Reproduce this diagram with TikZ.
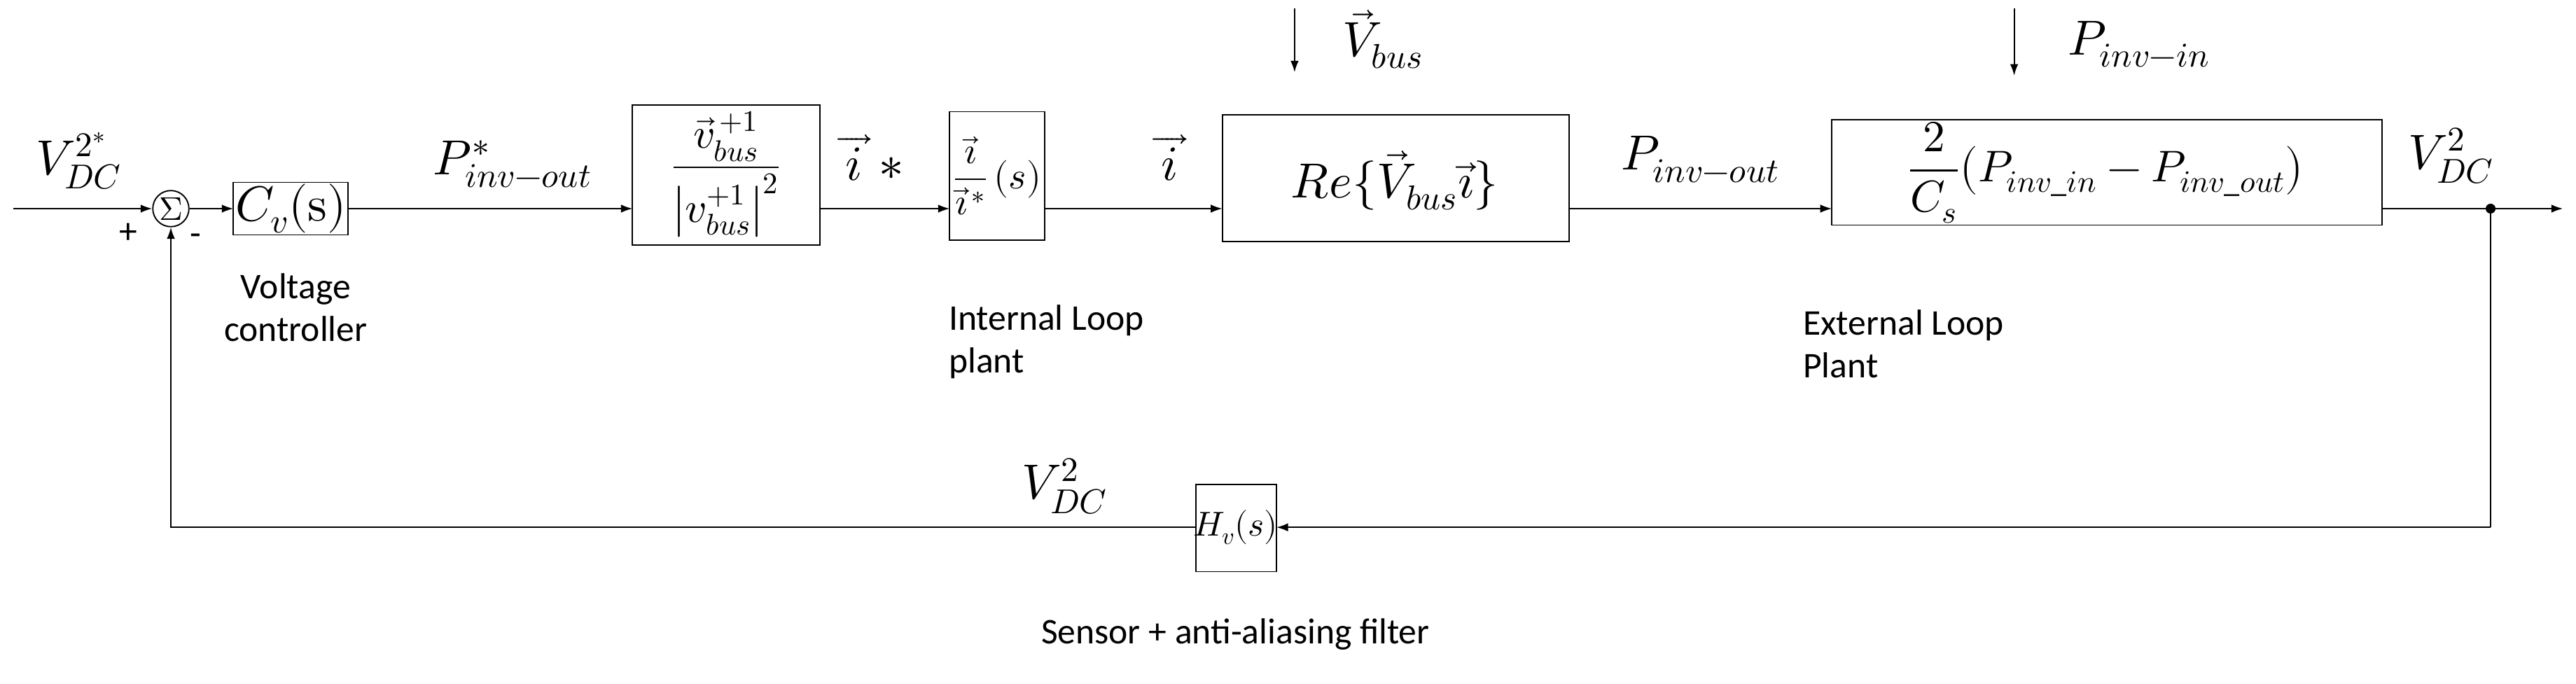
\documentclass[tikz,border=0pt]{standalone}
\usepackage{amsmath}
\usepackage{fontspec}
\usepackage{unicode-math}
\setmainfont{Carlito}
\setmathfont{Latin Modern Math}
\usepackage{tikz}
\usetikzlibrary{arrows.meta}

\begin{document}
\begin{tikzpicture}[x=1pt,y=-1pt,
    blk/.style={draw, thick},
    sig/.style={thick, -{Latex[length=7pt,width=5pt]}},
    mlab/.style={font=\fontsize{30}{32}\selectfont},
    tlab/.style={font=\fontsize{22}{26}\selectfont, align=left}]
        \useasboundingbox (0,0) rectangle (1568,416);
        % blocks
        \node[draw, thick, circle, inner sep=0pt, minimum size=22pt, font=\fontsize{20}{20}\selectfont] (sum) at (104,127) {$\Sigma$};
        \draw[blk] (142,111) rectangle (212,143);
        \node[mlab] (cv) at (177,127) {$C_v(\symup{s})$};
        \draw[blk] (385,64) rectangle (499,149);
        \node[mlab, font=\fontsize{26}{28}\selectfont] (ref) at (442,106) {$\dfrac{\vec v_{bus}^{\,+1}}{\big|v_{bus}^{+1}\big|^2}$};
        \draw[blk] (578,68) rectangle (636,146);
        \node[mlab, font=\fontsize{23}{24}\selectfont] (inl) at (607,107) {$\dfrac{\vec\imath}{\vec\imath^{\,*}}\,(s)$};
        \draw[blk] (744,70) rectangle (955,147);
        \node[mlab] (pw) at (849,110) {$Re\{\vec V_{bus}\vec\imath\}$};
        \draw[blk] (1115,73) rectangle (1450,137);
        \node[mlab, font=\fontsize{27}{28}\selectfont] (ext) at (1282,105) {$\dfrac{2}{C_s}\big(P_{inv\_in}-P_{inv\_out}\big)$};
        \draw[blk] (728,295) rectangle (777,348);
        \node[mlab, font=\fontsize{21}{22}\selectfont] (hv) at (752,321) {$H_v(s)$};
        % coordinates
        \coordinate (in) at (8,127);
        \coordinate (c1) at (142,127);
        \coordinate (c1o) at (212,127);
        \coordinate (b2i) at (385,127);
        \coordinate (b2o) at (499,127);
        \coordinate (b3i) at (578,127);
        \coordinate (b3o) at (636,127);
        \coordinate (b4i) at (744,127);
        \coordinate (b4o) at (955,127);
        \coordinate (b5i) at (1115,127);
        \coordinate (b5o) at (1450,127);
        \coordinate (br) at (1516,127);
        \coordinate (out) at (1560,127);
        \coordinate (fb1) at (1516,321);
        \coordinate (hvi) at (777,321);
        \coordinate (hvo) at (728,321);
        \coordinate (fb2) at (104,321);
        \coordinate (vbt) at (788,5);
        \coordinate (vbb) at (788,44);
        \coordinate (pit) at (1226,5);
        \coordinate (pib) at (1226,46);
        % connectors
        \draw[sig] (in) -- (sum);
        \draw[sig] (sum) -- (c1);
        \draw[sig] (c1o) -- (b2i);
        \draw[sig] (b2o) -- (b3i);
        \draw[sig] (b3o) -- (b4i);
        \draw[sig] (b4o) -- (b5i);
        \draw[sig] (b5o) -- (out);
        \draw[thick] (br) -- (fb1);
        \draw[sig] (fb1) -- (hvi);
        \draw[sig] (hvo) -- (fb2) -- (sum);
        \draw[sig] (vbt) -- (vbb);
        \draw[sig] (pit) -- (pib);
        \fill (br) circle (3pt);
        % labels
        \node[mlab] (lref) at (48,98) {$V_{DC}^{2^*}$};
        \node[mlab] (lp) at (312,100) {$P^*_{inv-out}$};
        \node[mlab] (li1) at (530,96) {$\overrightarrow{\,i\,}\,{*}$};
        \node[mlab] (li2) at (712,96) {$\overrightarrow{\,i\,}$};
        \node[mlab] (lpo) at (1035,97) {$P_{inv-out}$};
        \node[mlab] (lvo) at (1492,95) {$V_{DC}^2$};
        \node[mlab] (lvb) at (842,24) {$\vec V_{bus}$};
        \node[mlab] (lpi) at (1302,27) {$P_{inv-in}$};
        \node[mlab] (lvf) at (648,296) {$V_{DC}^2$};
        \node[font=\fontsize{22}{22}\selectfont] (plus) at (78,142) {+};
        \node[font=\fontsize{22}{22}\selectfont] (minus) at (119,146) {-};
        \node[tlab, align=center] (tvc) at (180,187) {Voltage\\controller};
        \node[tlab, anchor=north west] (til) at (574,182) {Internal Loop\\plant};
        \node[tlab, anchor=north west] (tel) at (1094,185) {External Loop\\Plant};
        \node[tlab] (tsn) at (752,386) {Sensor + anti-aliasing filter};
\end{tikzpicture}
\end{document}
